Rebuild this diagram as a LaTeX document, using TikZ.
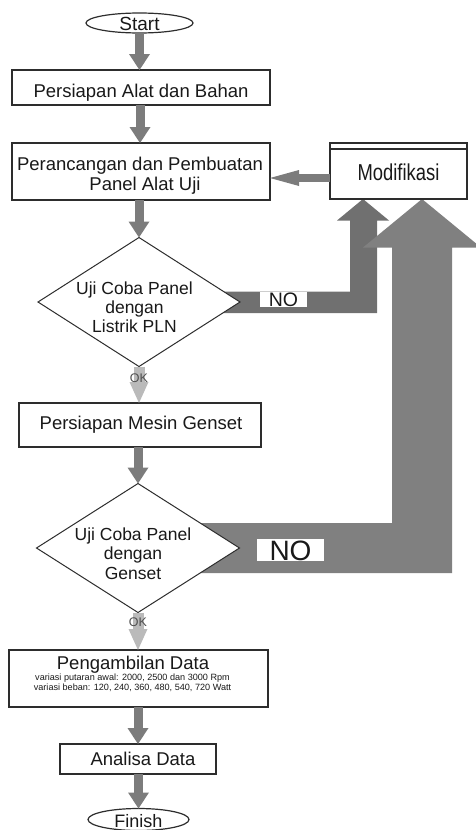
\documentclass[tikz,border=0pt]{standalone}
\usepackage{fontspec}
\setmainfont{Liberation Sans}
\usetikzlibrary{shapes.geometric,arrows.meta,backgrounds,calc}
\definecolor{flowc}{RGB}{124,124,124}
\definecolor{okc}{RGB}{186,186,186}
\definecolor{noonec}{RGB}{112,112,112}
\definecolor{notwoc}{RGB}{128,128,128}
\definecolor{linec}{RGB}{45,45,45}
\definecolor{txtc}{RGB}{25,25,25}
\definecolor{oktxt}{RGB}{80,80,80}
\newcommand{\setfs}[1]{\fontsize{#1}{#1}\selectfont}
\begin{document}
\begin{tikzpicture}[x=1pt,y=-1pt,
  shapebase/.style={draw=linec, line width=1.2pt, fill=white, inner sep=0pt, outer sep=0pt},
  boxnode/.style={shapebase, rectangle},
  termnode/.style={shapebase, ellipse},
  decnode/.style={shapebase, diamond, line width=1pt},
  txt/.style={text=txtc, inner sep=0pt, text height=0pt, text depth=0pt, font=\setfs{18.5}},
  dtxt/.style={txt, font=\setfs{17.5}},
  smalltxt/.style={txt, font=\setfs{9.1}},
  flow/.style={draw=flowc, line width=9pt, -{Triangle[width=21pt,length=16pt,line width=0pt]}},
  okflow/.style={draw=okc, line width=11pt, -{Triangle[width=19pt,length=21pt,line width=0pt]}},
  modflow/.style={draw=flowc, line width=8pt, -{Triangle[width=16pt,length=29pt,line width=0pt]}},
  oklbl/.style={text=oktxt, font=\setfs{12.5}, inner sep=0pt},
  nolbl/.style={fill=white, inner sep=0pt, outer sep=0pt, text=txtc},
]
\useasboundingbox (0,0) rectangle (475,830);

% nodes
\node[termnode, minimum width=107pt, minimum height=20pt,
  label={[txt, font=\setfs{19}, yshift=-7pt]center:Start}] (start) at (139.5,23) {};
\node[boxnode, minimum width=258pt, minimum height=35pt,
  label={[txt, yshift=-9.5pt]center:Persiapan Alat dan Bahan}] (b1) at (141,87.5) {};
\node[boxnode, minimum width=258pt, minimum height=57pt,
  label={[txt, yshift=1.5pt, xshift=-1pt]center:Perancangan dan Pembuatan},
  label={[txt, yshift=-18.5pt, xshift=4pt]center:Panel Alat Uji}] (b2) at (141,171.5) {};
\node[boxnode, minimum width=137pt, minimum height=56pt,
  label={[txt, yshift=-9pt]center:\scalebox{0.8}[1]{\setfs{23}Modifikasi}}] (mod) at (398.5,171) {};
\draw[draw=linec, line width=1.2pt] ([yshift=-6pt]mod.north west) -- ([yshift=-6pt]mod.north east);

\node[decnode, minimum width=202pt, minimum height=129pt,
  label={[dtxt, yshift=8pt, xshift=-4.5pt]center:Uji Coba Panel},
  label={[dtxt, yshift=-11pt, xshift=-4.5pt]center:dengan},
  label={[dtxt, yshift=-30pt, xshift=-4.5pt]center:Listrik PLN}] (d1) at (139,302) {};
\node[boxnode, minimum width=242pt, minimum height=44pt,
  label={[txt, yshift=-4.3pt, xshift=1pt]center:Persiapan Mesin Genset}] (b3) at (140,425) {};
\node[decnode, minimum width=203pt, minimum height=129pt,
  label={[dtxt, yshift=8pt, xshift=-5pt]center:Uji Coba Panel},
  label={[dtxt, yshift=-11pt, xshift=-5pt]center:dengan},
  label={[dtxt, yshift=-31pt, xshift=-5pt]center:Genset}] (d2) at (138,548) {};
\node[boxnode, minimum width=259pt, minimum height=57pt,
  label={[txt, yshift=9.2pt, xshift=-5.5pt]center:Pengambilan Data},
  label={[smalltxt, yshift=-2.2pt, xshift=-6pt]center:variasi putaran awal: 2000, 2500 dan 3000 Rpm},
  label={[smalltxt, yshift=-12.2pt, xshift=-6pt]center:variasi beban: 120, 240, 360, 480, 540, 720 Watt}] (b4) at (138.5,678.5) {};
\node[boxnode, minimum width=156pt, minimum height=30pt,
  label={[txt, yshift=-6pt, xshift=5pt]center:Analisa Data}] (b5) at (138,759) {};
\node[termnode, minimum width=101pt, minimum height=22pt,
  label={[txt, font=\setfs{18}, yshift=-7.5pt]center:Finish}] (finish) at (138.5,819.5) {};

% main flow connectors
\draw[flow] (start.south) -- (start.south |- b1.north);
\draw[flow] ([xshift=-1pt]b1.south) -- ([xshift=-1pt]b1.south |- b2.north);
\draw[flow] (b2.south -| d1.north) -- (d1.north);
\draw[okflow] (d1.south) -- node[oklbl, pos=0.31] (ok1) {OK} (d1.south |- b3.north);
\draw[flow] (b3.south -| d2.north) -- (d2.north);
\draw[okflow] (d2.south) -- node[oklbl, pos=0.27] (ok2) {OK} (d2.south |- b4.north);
\draw[flow] (b4.south -| b5.north) -- (b5.north);
\draw[flow] (b5.south -| finish.north) -- (finish.north);
\draw[modflow] ([yshift=-7pt]mod.west) -- ([yshift=-7pt]mod.west -| b2.east);

% NO connectors (behind the decision diamonds)
\begin{scope}[on background layer]
  \coordinate (n1tip) at ([xshift=-35.5pt]mod.south);
  \fill[noonec] (n1tip) -- ++(26,21.5) -- ++(-12,0)
     |- ([yshift=-11pt]d1.center) -- ([yshift=10.5pt]d1.center)
     -| ([shift={(-13pt,-21.5pt)}]n1tip) -- ++(-13,0) -- cycle;
  \coordinate (n2tip) at ([xshift=23.5pt]mod.south);
  \fill[notwoc] (n2tip) -- ++(59,48.5) -- ++(-29,0)
     |- ([yshift=-25pt]d2.center) -- ([yshift=25pt]d2.center)
     -| ([shift={(-30pt,-48.5pt)}]n2tip) -- ++(-29,0) -- cycle;
\end{scope}
\node[nolbl, minimum width=47pt, minimum height=15pt, font=\setfs{19.5}, text height=13pt, text depth=0pt] (no1) at (283.5,299.5) {NO};
\node[nolbl, minimum width=67pt, minimum height=22pt, font=\setfs{28}, text height=21.4pt, text depth=0pt] (no2) at (290.5,550) {NO};
\end{tikzpicture}
\end{document}
